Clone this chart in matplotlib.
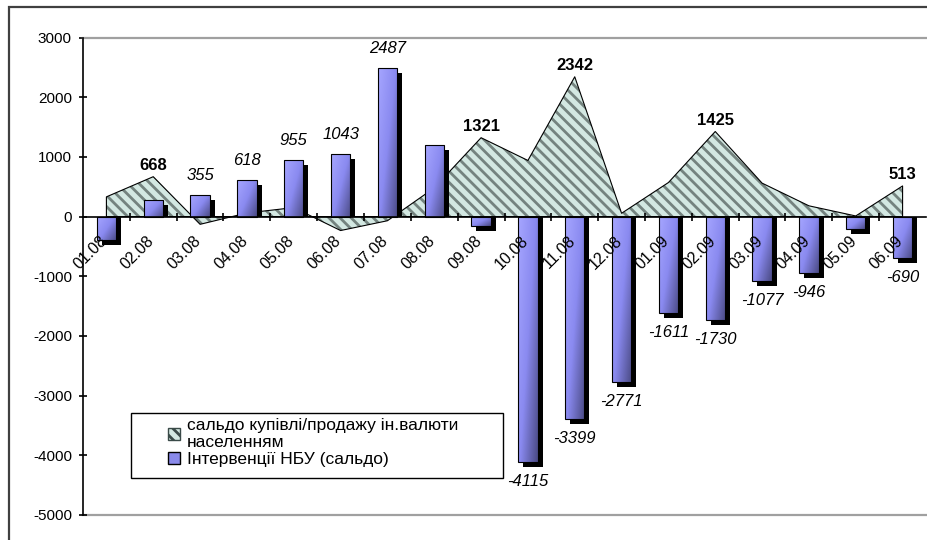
import numpy as np
import matplotlib.pyplot as plt
from matplotlib.patches import Rectangle, Patch
from matplotlib.colors import LinearSegmentedColormap
from matplotlib.transforms import ScaledTranslation

plt.rcParams['font.family'] = ['Liberation Sans', 'DejaVu Sans']
plt.rcParams['axes.unicode_minus'] = False
plt.rcParams['hatch.linewidth'] = 2.0

# дані
daty = ['01.08', '02.08', '03.08', '04.08', '05.08', '06.08', '07.08', '08.08', '09.08',
        '10.08', '11.08', '12.08', '01.09', '02.09', '03.09', '04.09', '05.09', '06.09']
saldo_nas = [330, 668, -130, 60, 150, -234, -70, 480, 1321, 940, 2342, 55, 570, 1425, 560, 180, 10, 513]
intervencii = [-400, 280, 355, 618, 955, 1043, 2487, 1200, -150, -4115, -3399, -2771,
               -1611, -1730, -1077, -946, -210, -690]
# які точки підписані
pidpys_bar = [0, 0, 1, 1, 1, 1, 1, 0, 0, 1, 1, 1, 1, 1, 1, 1, 0, 1]
pidpys_area = [0, 1, 0, 0, 0, 0, 0, 0, 1, 0, 1, 0, 0, 1, 0, 0, 0, 1]

leg_area = 'сальдо купівлі/продажу ін.валюти\nнаселенням'
leg_bar = 'Інтервенції НБУ (сальдо)'

W, H = 927, 540
fig = plt.figure(figsize=(W / 100, H / 100), dpi=100)
ax = fig.add_axes([83 / W, 1 - 515 / H, 843 / W, (515 - 37.5) / H])

x = np.arange(len(daty))
w = 0.41
ax.set_xlim(-0.5, len(daty) - 0.5)
ax.set_ylim(-5000, 3000)

# зсув тіні 5 px
pos = ax.get_position()
px_cat = pos.width * W / len(daty)
px_val = pos.height * H / 8000
dx = 5 / px_cat
dy = 5 / px_val

# площа (сальдо населення)
ax.fill_between(x, saldo_nas, 0, facecolor='#d3e8e2', edgecolor='#74837f',
                hatch='\\\\\\', linewidth=0, zorder=1)
ax.fill_between(x, saldo_nas, 0, facecolor='none', edgecolor='black',
                linewidth=0.8, zorder=1.5)

# стовпчики з тінню
ax.bar(x + dx, np.array(intervencii) - dy, width=w, color='black', zorder=2)
bars = ax.bar(x, intervencii, width=w, facecolor='none', edgecolor='black',
              linewidth=0.8, zorder=4)

cmap = LinearSegmentedColormap.from_list('nbu', ['#a6a6ff', '#8a8af0', '#4a4a84'])
u = np.linspace(0, 1, 64)
grad = 0.55 * u[None, :] + 0.45 * u[:, None]
for xi, val, r in zip(x, intervencii, bars.patches):
    im = ax.imshow(grad, cmap=cmap, vmin=0, vmax=1, origin='upper', aspect='auto',
                   extent=(xi - w / 2, xi + w / 2, min(0, val), max(0, val)),
                   interpolation='bilinear', zorder=3)
    im.set_clip_path(r)

ax.set_xlim(-0.5, len(daty) - 0.5)
ax.set_ylim(-5000, 3000)

# підписи
for xi, val, p in zip(x, intervencii, pidpys_bar):
    if p:
        off = 14 if val > 0 else -14
        ax.annotate(str(val), (xi, val), xytext=(0, off), textcoords='offset points',
                    ha='center', va='center', fontsize=12, style='italic', zorder=6)
for xi, val, p in zip(x, saldo_nas, pidpys_area):
    if p:
        ax.annotate(str(val), (xi, val), xytext=(0, 8), textcoords='offset points',
                    ha='center', va='center', fontsize=12, fontweight='bold', zorder=6)

# осі
ax.spines['bottom'].set_position(('data', 0))
ax.spines['bottom'].set_zorder(5)
ax.spines['bottom'].set_linewidth(1.2)
ax.spines['left'].set_linewidth(1.2)
ax.spines['left'].set_zorder(5)
ax.spines['top'].set_color('#a0a0a0')
ax.spines['top'].set_linewidth(1.6)
ax.spines['right'].set_visible(False)
ax.axhline(-5000, color='#a0a0a0', linewidth=1.6, zorder=0.5, clip_on=False)
ax.xaxis.set_zorder(5.5)

ax.set_yticks(np.arange(-5000, 3001, 1000))
ax.tick_params(axis='y', direction='inout', length=6, width=1.2, pad=5, labelsize=11)
ax.set_xticks(x)
ax.set_xticklabels(daty)
ax.set_xticks(np.arange(0.5, len(daty) - 1, 1), minor=True)
ax.tick_params(axis='x', which='major', length=0, pad=12, labelsize=11.5)
ax.tick_params(axis='x', which='minor', direction='inout', length=6, width=1.2)
for lab in ax.get_xticklabels():
    lab.set_rotation(45)
    lab.set_ha('right')
    lab.set_va('top')
    lab.set_rotation_mode('anchor')
    lab.set_transform(lab.get_transform() + ScaledTranslation(-0.07, 0, fig.dpi_scale_trans))

# легенда
ax.add_patch(Rectangle((131 / W, 1 - 478 / H), 372 / W, 65 / H, transform=fig.transFigure,
                       facecolor='white', edgecolor='black', linewidth=1.0, zorder=7,
                       clip_on=False))
handles = [Patch(facecolor='#d3e8e2', edgecolor='#3a4a48', hatch='\\\\\\'),
           Patch(facecolor='#8a8aea', edgecolor='black')]
leg = ax.legend(handles, [leg_area, leg_bar], loc='upper left', frameon=False,
                bbox_to_anchor=(168 / W, 1 - 418 / H), bbox_transform=fig.transFigure,
                fontsize=12.5, handlelength=0.7, handleheight=0.7, handletextpad=0.4,
                labelspacing=0.1, borderpad=0, borderaxespad=0)
leg.set_zorder(8)

# рамка діаграми
fig.patches.append(Rectangle((9 / W, -0.05), 1.0, 1 - 7 / H + 0.05, transform=fig.transFigure,
                             facecolor='none', edgecolor='#404040', linewidth=1.6))

fig.savefig('out.png', dpi=100)
